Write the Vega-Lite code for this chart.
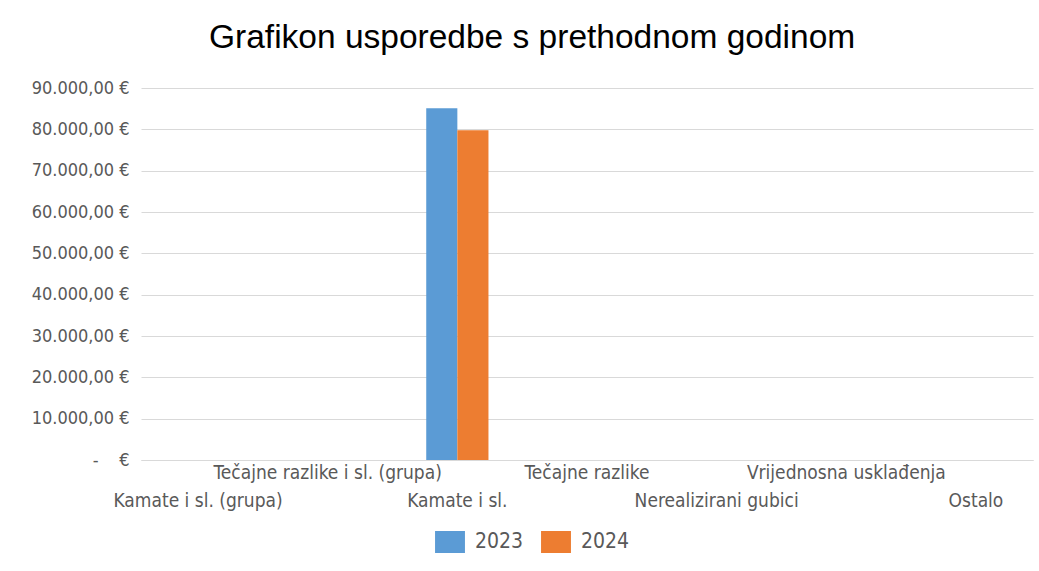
{
  "$schema": "https://vega.github.io/schema/vega-lite/v6.json",
  "width": 892,
  "height": 372,
  "padding": {"left": 31, "top": 20, "right": 7, "bottom": 10},
  "background": "white",
  "title": {
    "text": "Grafikon usporedbe s prethodnom godinom",
    "font": "Liberation Sans",
    "fontSize": 33.5,
    "fontWeight": "normal",
    "color": "#000000",
    "offset": 24,
    "anchor": "middle",
    "frame": "bounds"
  },
  "data": {
    "values": [
      {"kategorija": "Kamate i sl. (grupa)", "godina": "2023", "iznos": 0},
      {"kategorija": "Kamate i sl. (grupa)", "godina": "2024", "iznos": 0},
      {"kategorija": "Tečajne razlike i sl. (grupa)", "godina": "2023", "iznos": 0},
      {"kategorija": "Tečajne razlike i sl. (grupa)", "godina": "2024", "iznos": 0},
      {"kategorija": "Kamate i sl.", "godina": "2023", "iznos": 85100},
      {"kategorija": "Kamate i sl.", "godina": "2024", "iznos": 79800},
      {"kategorija": "Tečajne razlike", "godina": "2023", "iznos": 0},
      {"kategorija": "Tečajne razlike", "godina": "2024", "iznos": 0},
      {"kategorija": "Nerealizirani gubici", "godina": "2023", "iznos": 0},
      {"kategorija": "Nerealizirani gubici", "godina": "2024", "iznos": 0},
      {"kategorija": "Vrijednosna usklađenja", "godina": "2023", "iznos": 0},
      {"kategorija": "Vrijednosna usklađenja", "godina": "2024", "iznos": 0},
      {"kategorija": "Ostalo", "godina": "2023", "iznos": 0},
      {"kategorija": "Ostalo", "godina": "2024", "iznos": 0}
    ]
  },
  "mark": {"type": "bar"},
  "encoding": {
    "x": {
      "field": "kategorija",
      "type": "nominal",
      "sort": null,
      "scale": {"paddingInner": 0.52},
      "axis": {
        "title": null,
        "labelAngle": 0,
        "labelFont": "DejaVu Sans Condensed",
        "labelFontSize": 19,
        "labelColor": "#595959",
        "labelPadding": 3,
        "labelLimit": 0,
        "labelLineHeight": 28,
        "labelBaseline": "top",
        "labelExpr": "indexof(['Kamate i sl. (grupa)','Kamate i sl.','Nerealizirani gubici','Ostalo'], datum.value) >= 0 ? ['', datum.label] : datum.label",
        "ticks": false,
        "domainColor": "#d9d9d9",
        "labelOverlap": false
      }
    },
    "xOffset": {"field": "godina", "type": "nominal"},
    "y": {
      "field": "iznos",
      "type": "quantitative",
      "scale": {"domain": [0, 90000]},
      "axis": {
        "title": null,
        "values": [0, 10000, 20000, 30000, 40000, 50000, 60000, 70000, 80000, 90000],
        "labelExpr": "datum.value == 0 ? '-\u00a0\u00a0\u00a0\u00a0€' : format(datum.value / 1000, 'd') + '.000,00 €'",
        "labelFont": "DejaVu Sans Condensed",
        "labelFontSize": 18,
        "labelColor": "#595959",
        "labelPadding": 12,
        "ticks": false,
        "domain": false,
        "gridColor": "#d9d9d9"
      }
    },
    "color": {
      "field": "godina",
      "type": "nominal",
      "scale": {"domain": ["2023", "2024"], "range": ["#5B9BD5", "#ED7D31"]},
      "legend": {
        "title": null,
        "orient": "none",
        "legendX": 298,
        "legendY": 443,
        "direction": "horizontal",
        "symbolType": "M-1.36,-1H1.36V1H-1.36Z",
        "symbolSize": 484,
        "symbolStrokeWidth": 0,
        "labelFont": "DejaVu Sans Condensed",
        "labelFontSize": 21,
        "labelColor": "#595959",
        "labelOffset": 14,
        "columnPadding": 17
      }
    }
  },
  "config": {"view": {"stroke": null}}
}
